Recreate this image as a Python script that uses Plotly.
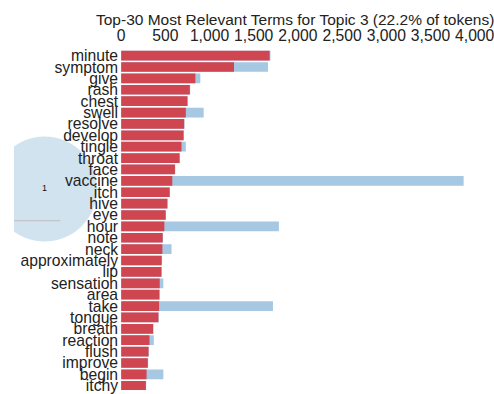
import plotly.graph_objects as go

terms = ["minute", "symptom", "give", "rash", "chest", "swell", "resolve", "develop",
         "tingle", "throat", "face", "vaccine", "itch", "hive", "eye", "hour", "note",
         "neck", "approximately", "lip", "sensation", "area", "take", "tongue", "breath",
         "reaction", "flush", "improve", "begin", "itchy"]
topic_freq = [1680, 1277, 840, 777, 750, 732, 713, 706, 683, 661, 609, 579, 549, 523,
              504, 489, 470, 467, 459, 456, 437, 433, 430, 422, 362, 321, 310, 302, 288, 280]
total_freq = [1690, 1662, 896, 782, 755, 934, 718, 711, 732, 665, 613, 3875, 553, 527,
              508, 1785, 474, 571, 463, 460, 478, 437, 1718, 426, 366, 370, 314, 306, 478, 284]
x_ticks = [0, 500, 1000, 1500, 2000, 2500, 3000, 3500, 4000]
title_text = "Top-30 Most Relevant Terms for Topic 3 (22.2% of tokens)"

topic_label = ["1"]
topic_x = [41]
topic_y = [191]
topic_r = [53]

W, H = 494, 394
FONT = "Liberation Sans, Arial, sans-serif"

fig = go.Figure()

# topic circle (intertopic map, partially visible) on the first subplot
for lab, cx, cy, r in zip(topic_label, topic_x, topic_y, topic_r):
    fig.add_shape(type="circle", xref="x", yref="y", x0=cx - r, x1=cx + r,
                  y0=cy - r, y1=cy + r, fillcolor="#d2e3f0",
                  line=dict(width=0), layer="below")
    fig.add_shape(type="line", xref="x", yref="y", x0=0, x1=57, y0=223, y1=223,
                  line=dict(color="#bdbdbd", width=1), layer="below")
fig.add_trace(go.Scatter(x=topic_x, y=topic_y, text=topic_label, mode="text",
                         textfont=dict(family=FONT, size=9, color="#111"),
                         xaxis="x", yaxis="y", showlegend=False, hoverinfo="skip"))

# bar chart on the second subplot (drawn above the circle)
fig.add_trace(go.Bar(x=total_freq, y=terms, orientation="h",
                     marker=dict(color="#a6c8e2", line=dict(width=0)),
                     xaxis="x2", yaxis="y2", showlegend=False))
fig.add_trace(go.Bar(x=topic_freq, y=terms, orientation="h",
                     marker=dict(color="#cf4650", line=dict(width=0)),
                     xaxis="x2", yaxis="y2", showlegend=False))

top_px = 46.0
pitch = 11.5
c0 = 56.2
y_top = (top_px - c0) / pitch
y_bot = (H - c0) / pitch

x0_px = 118.3
scale = 0.0893
xmax = (W - x0_px) / scale

fig.update_layout(
    width=W, height=H,
    margin=dict(l=0, r=0, t=0, b=0),
    paper_bgcolor="white", plot_bgcolor="rgba(0,0,0,0)",
    barmode="overlay", bargap=0.15,
    font=dict(family=FONT, size=15.7, color="#222"),
    xaxis=dict(domain=[10 / W, x0_px / W], range=[10, x0_px], visible=False,
               anchor="y"),
    yaxis=dict(domain=[0, 1], range=[H, 0], visible=False, anchor="x"),
    xaxis2=dict(domain=[x0_px / W, 1], range=[0, xmax], side="top",
                tickmode="array", tickvals=x_ticks,
                ticktext=[f"{v:,}" for v in x_ticks], showgrid=False, zeroline=False,
                showline=False, ticks="", tickfont=dict(size=15.7, color="#222"),
                anchor="y2", ticklabeloverflow="allow"),
    yaxis2=dict(domain=[0, (H - top_px) / H], range=[y_bot, y_top], type="category",
                tickmode="array", tickvals=terms, ticktext=terms,
                showgrid=False, zeroline=False, showline=False, ticks="",
                tickfont=dict(size=15.7, color="#222"), anchor="x2",
                ticklabelstandoff=2, ticklabeloverflow="allow"),
    annotations=[dict(text=title_text, xref="paper", yref="paper",
                      x=293.5 / W, y=1 - 19.5 / H, xanchor="center", yanchor="middle",
                      showarrow=False, font=dict(family=FONT, size=15.5, color="#222"))],
)

fig.write_html("out.html")
